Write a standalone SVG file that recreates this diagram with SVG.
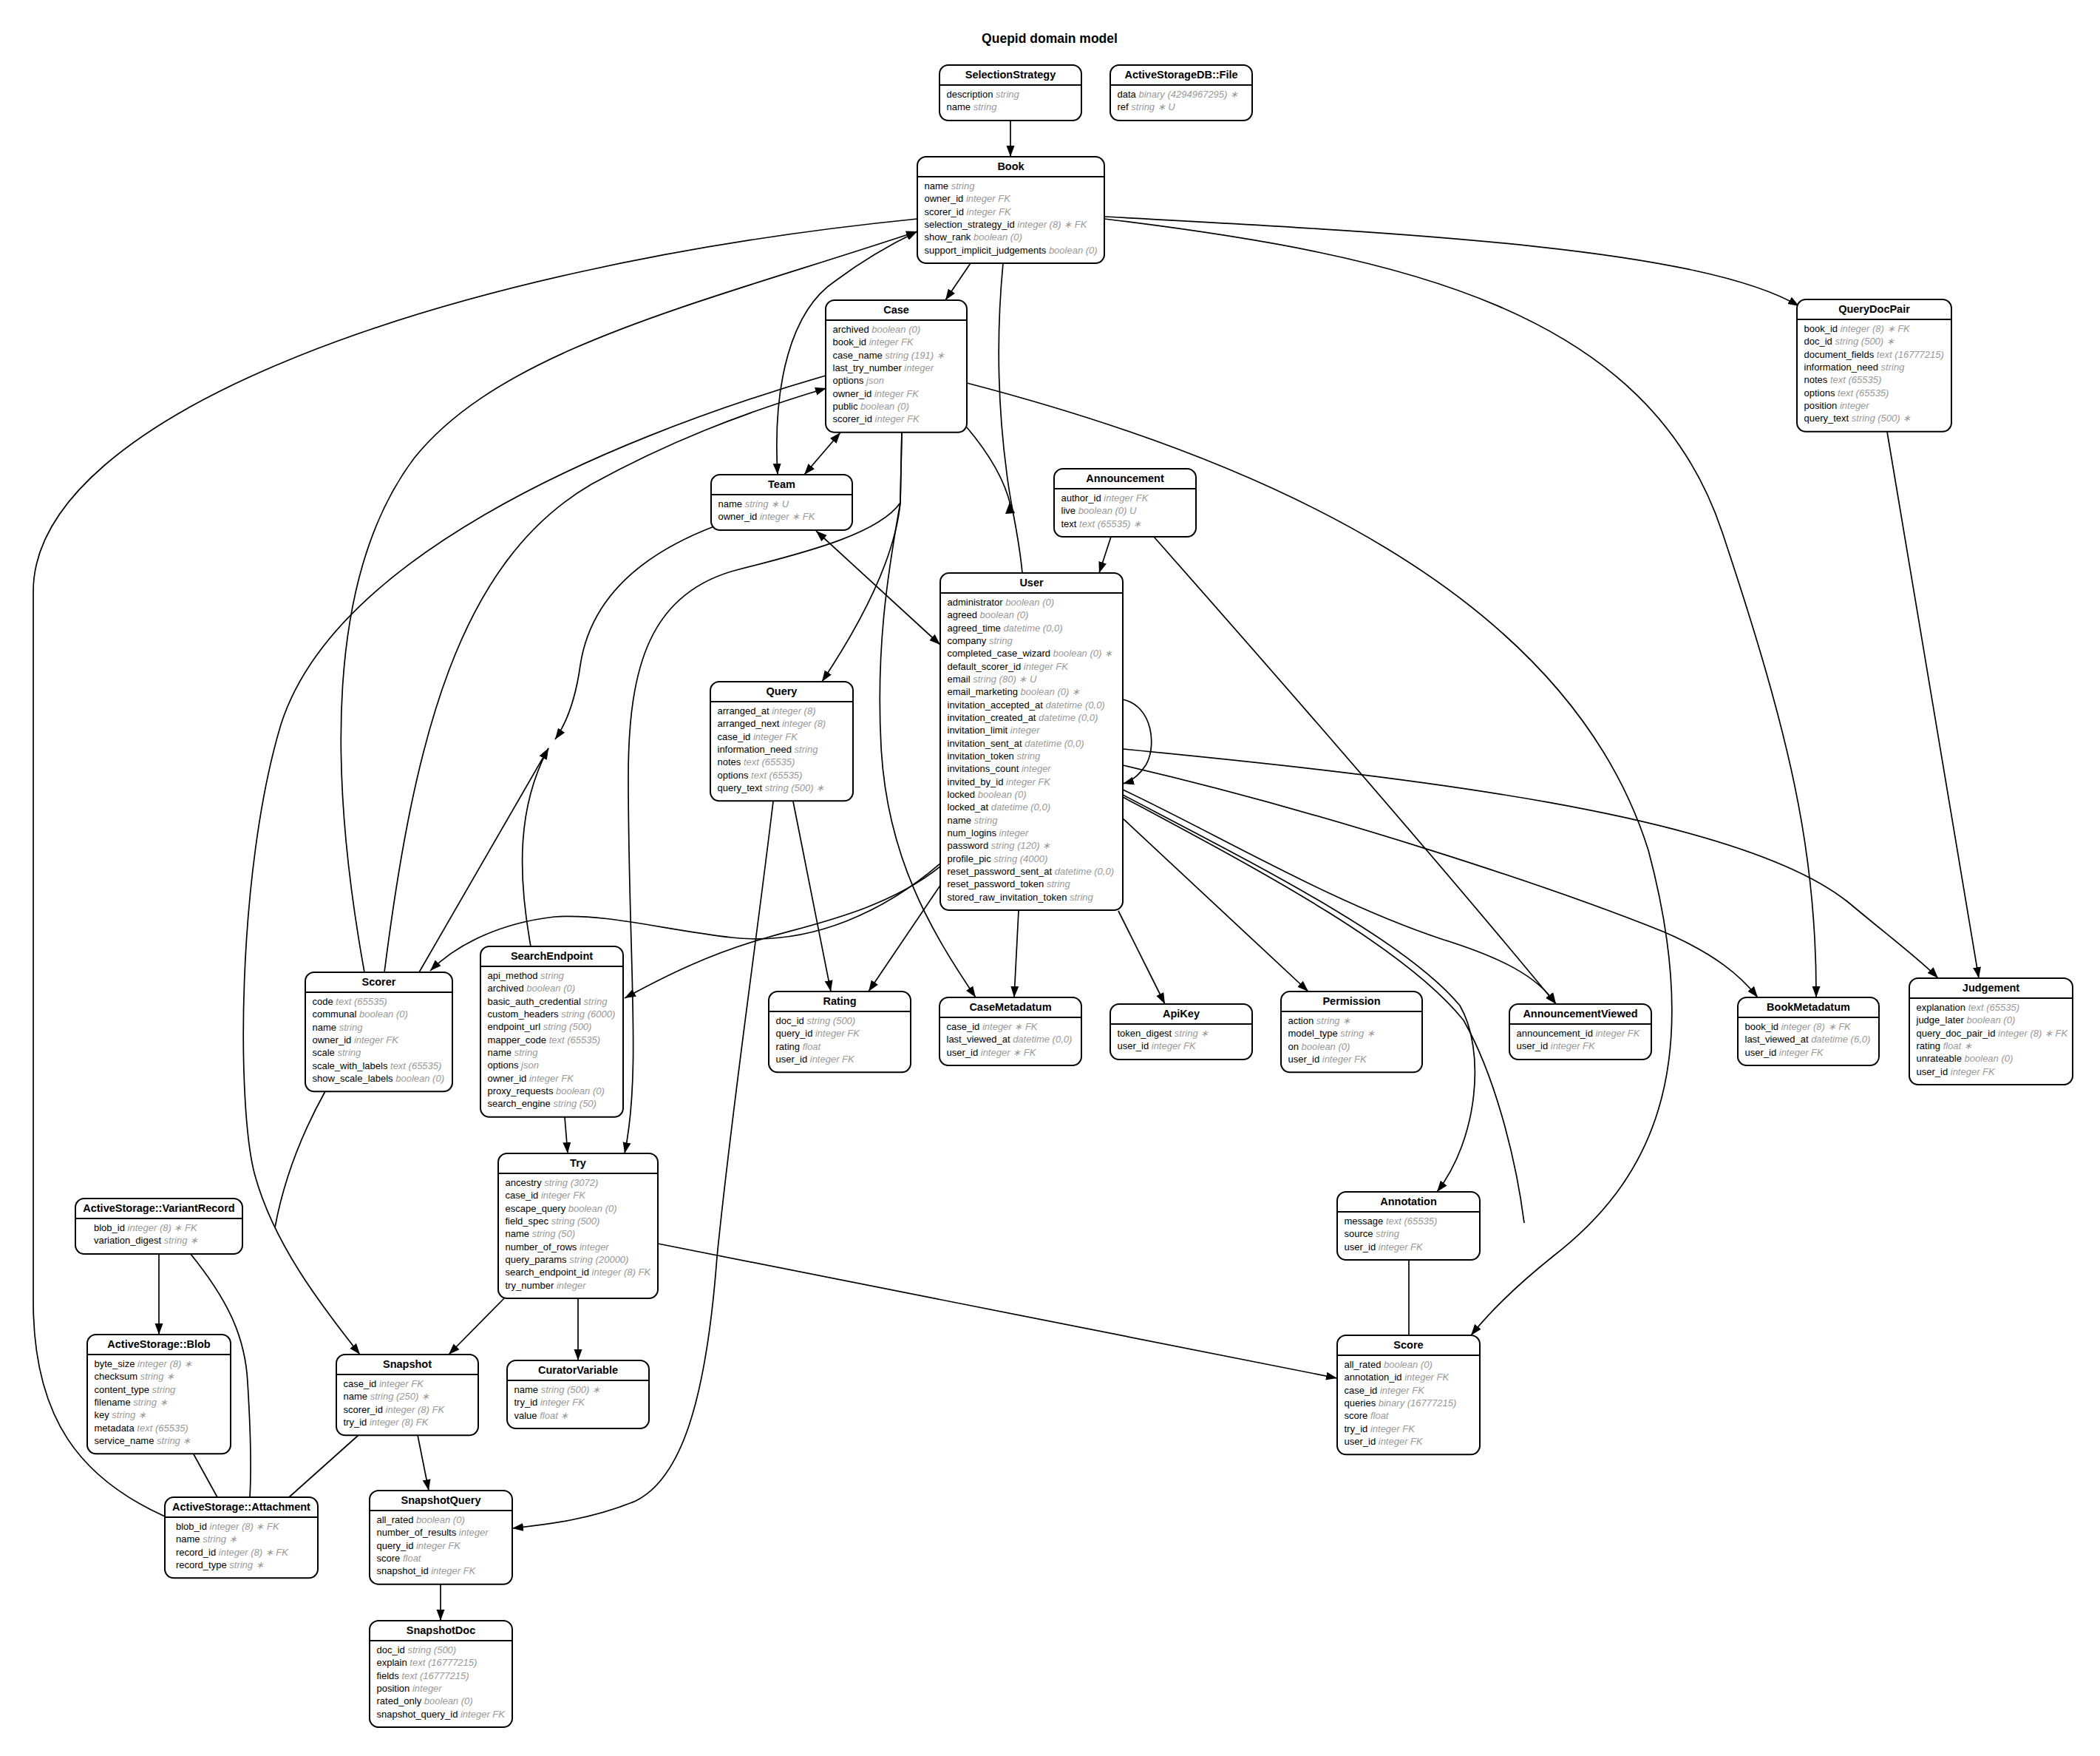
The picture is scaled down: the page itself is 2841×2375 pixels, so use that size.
<svg xmlns="http://www.w3.org/2000/svg" width="2841" height="2375" viewBox="0 0 2841 2375">
<style>
.n rect{fill:#fff;stroke:#000;stroke-width:2}
.n line{stroke:#000;stroke-width:2}
.h{font-family:"Liberation Sans",Arial,sans-serif;font-weight:bold;font-size:14.5px;text-anchor:middle;fill:#000}
.r{font-family:"Liberation Sans",Arial,sans-serif;font-size:13px;fill:#000}
.t{fill:#999;font-style:italic}
.e path{fill:none;stroke:#000;stroke-width:1.7}
.e .ah{fill:#000;stroke:none}
.ttl{font-family:"Liberation Sans",Arial,sans-serif;font-weight:bold;font-size:17.5px;text-anchor:middle}
</style>
<defs>
<marker id="a" markerUnits="userSpaceOnUse" markerWidth="16" markerHeight="12" viewBox="0 0 16 12" refX="15" refY="6" orient="auto-start-reverse"><path d="M0,0.5 L15,6 L0,11.5z" fill="#000"/></marker>
</defs>
<rect x="0" y="0" width="2841" height="2375" fill="#fff"/>
<text class="ttl" x="1420" y="58">Quepid domain model</text>

<g id="edges" class="e">
<path d="M1367,163 L1367,212" marker-end="url(#a)"/>
<path d="M1313,356 L1279,406" marker-end="url(#a)"/>
<path d="M1494,293 C1900,315 2300,335 2434,414" marker-end="url(#a)"/>
<path d="M1494,296 C1900,345 2230,420 2330,720 C2420,990 2458,1150 2457,1349" marker-end="url(#a)"/>
<path d="M1052,642 C1045,520 1070,420 1130,380 C1170,350 1210,328 1241,313" marker-start="url(#a)" marker-end="url(#a)"/>
<path d="M493,1315 C445,1050 440,780 560,620 C680,470 950,410 1241,313" marker-end="url(#a)"/>
<path d="M223,2051 C110,2000 45,1920 45,1760 L45,800 C45,560 600,360 1241,296"/>
<path d="M1088,642 L1137,585" marker-start="url(#a)" marker-end="url(#a)"/>
<path d="M520,1315 C560,1000 620,760 800,655 C900,600 1000,560 1118,525" marker-end="url(#a)"/>
<path d="M1117,508 C800,600 450,760 380,980 C320,1180 320,1500 345,1590 C370,1680 430,1760 487,1832" marker-end="url(#a)"/>
<path d="M1220,584 L1218,680 C1210,760 1160,850 1112,922" marker-end="url(#a)"/>
<path d="M1220,584 L1218,680 C1200,780 1185,880 1192,1010 C1200,1160 1260,1260 1320,1349" marker-end="url(#a)"/>
<path d="M1218,680 C1190,720 1100,745 1000,770 C880,800 850,900 850,1050 C850,1300 868,1450 845,1560" marker-end="url(#a)"/>
<path d="M1308,518 C1700,620 2120,800 2230,1150 C2310,1450 2230,1600 2100,1700 C2050,1740 2015,1775 1990,1806" marker-end="url(#a)"/>
<path d="M1383,775 C1378,720 1368,690 1362,640 C1350,550 1348,450 1357,356"/>
<path d="M1308,578 C1335,610 1358,645 1367,683"/>
<path class="ah" d="M1366,679 L1360,695 L1373,694 z"/>
<path d="M1104,718 L1272,872" marker-start="url(#a)" marker-end="url(#a)"/>
<path d="M966,712 C880,745 800,800 785,900 C778,950 765,980 751,1000" marker-end="url(#a)"/>
<path d="M567,1315 L742,1012" marker-end="url(#a)"/>
<path d="M718,1280 C700,1180 700,1090 742,1012" marker-end="url(#a)"/>
<path d="M1272,1168 C1200,1230 1100,1280 990,1268 C900,1258 820,1235 750,1240 C680,1248 620,1275 582,1313" marker-end="url(#a)"/>
<path d="M1272,1172 C1200,1230 1100,1250 1038,1268 C960,1290 900,1320 845,1350" marker-end="url(#a)"/>
<path d="M440,1476 C410,1530 385,1590 372,1660"/>
<path d="M1073,1084 L1124,1341" marker-end="url(#a)"/>
<path d="M1046,1084 C1020,1300 990,1500 970,1700 C955,1900 920,2000 860,2030 C800,2055 740,2062 693,2067" marker-end="url(#a)"/>
<path d="M1275,1193 L1175,1341" marker-end="url(#a)"/>
<path d="M1378,1232 L1372,1349" marker-end="url(#a)"/>
<path d="M1513,1232 L1576,1358" marker-end="url(#a)"/>
<path d="M1519,1107 L1770,1341" marker-end="url(#a)"/>
<path d="M1519,946 C1560,955 1565,1010 1550,1035 C1540,1050 1530,1057 1519,1060" marker-end="url(#a)"/>
<path d="M1519,1013 C1900,1050 2350,1100 2500,1220 C2560,1270 2600,1300 2622,1323" marker-end="url(#a)"/>
<path d="M1519,1035 C1800,1100 2100,1200 2250,1260 C2320,1290 2355,1320 2378,1349" marker-end="url(#a)"/>
<path d="M1519,1068 C1650,1130 1800,1220 1950,1270 C2030,1295 2080,1320 2105,1358" marker-end="url(#a)"/>
<path d="M1519,1075 C1700,1170 1900,1270 1975,1360 C2010,1420 2000,1540 1944,1612" marker-end="url(#a)"/>
<path d="M1519,1078 C1700,1175 1900,1280 1980,1380 C2020,1450 2050,1560 2062,1654"/>
<path d="M1503,726 L1487,775" marker-end="url(#a)"/>
<path d="M1561,726 C1750,940 1950,1170 2105,1358" marker-end="url(#a)"/>
<path d="M2553,584 L2677,1323" marker-end="url(#a)"/>
<path d="M764,1511 L768,1560" marker-end="url(#a)"/>
<path d="M682,1756 L607,1832" marker-end="url(#a)"/>
<path d="M782,1756 L782,1840" marker-end="url(#a)"/>
<path d="M890,1682 L1809,1864" marker-end="url(#a)"/>
<path d="M1906,1704 L1906,1806"/>
<path d="M565,1941 L580,2016" marker-end="url(#a)"/>
<path d="M485,1941 L391,2025"/>
<path d="M596,2143 L596,2192" marker-end="url(#a)"/>
<path d="M215,1695 L215,1805" marker-end="url(#a)"/>
<path d="M257,1695 C310,1760 332,1810 335,1870 C340,1950 340,1990 338,2025"/>
<path d="M262,1967 L294,2025"/>
</g>

<g id="n-selectionstrategy" class="n">
<rect x="1271" y="88" width="192" height="75" rx="12"/><line x1="1271" y1="115" x2="1463" y2="115"/>
<text class="h" x="1367" y="105.5">SelectionStrategy</text>
<text class="r" x="1280.5" y="132"><tspan x="1280.5" dy="0">description <tspan class="t">string</tspan></tspan><tspan x="1280.5" dy="17.33">name <tspan class="t">string</tspan></tspan></text>
</g>
<g id="n-activestoragedbfile" class="n">
<rect x="1502" y="88" width="192" height="75" rx="12"/><line x1="1502" y1="115" x2="1694" y2="115"/>
<text class="h" x="1598" y="105.5">ActiveStorageDB::File</text>
<text class="r" x="1511.5" y="132"><tspan x="1511.5" dy="0">data <tspan class="t">binary (4294967295) ∗</tspan></tspan><tspan x="1511.5" dy="17.33">ref <tspan class="t">string ∗ U</tspan></tspan></text>
</g>
<g id="n-book" class="n">
<rect x="1241" y="212" width="253" height="144" rx="12"/><line x1="1241" y1="239" x2="1494" y2="239"/>
<text class="h" x="1367.5" y="229.5">Book</text>
<text class="r" x="1250.5" y="256"><tspan x="1250.5" dy="0">name <tspan class="t">string</tspan></tspan><tspan x="1250.5" dy="17.33">owner_id <tspan class="t">integer FK</tspan></tspan><tspan x="1250.5" dy="17.33">scorer_id <tspan class="t">integer FK</tspan></tspan><tspan x="1250.5" dy="17.33">selection_strategy_id <tspan class="t">integer (8) ∗ FK</tspan></tspan><tspan x="1250.5" dy="17.33">show_rank <tspan class="t">boolean (0)</tspan></tspan><tspan x="1250.5" dy="17.33">support_implicit_judgements <tspan class="t">boolean (0)</tspan></tspan></text>
</g>
<g id="n-case" class="n">
<rect x="1117" y="406" width="191" height="178.7" rx="12"/><line x1="1117" y1="433" x2="1308" y2="433"/>
<text class="h" x="1212.5" y="423.5">Case</text>
<text class="r" x="1126.5" y="450"><tspan x="1126.5" dy="0">archived <tspan class="t">boolean (0)</tspan></tspan><tspan x="1126.5" dy="17.33">book_id <tspan class="t">integer FK</tspan></tspan><tspan x="1126.5" dy="17.33">case_name <tspan class="t">string (191) ∗</tspan></tspan><tspan x="1126.5" dy="17.33">last_try_number <tspan class="t">integer</tspan></tspan><tspan x="1126.5" dy="17.33">options <tspan class="t">json</tspan></tspan><tspan x="1126.5" dy="17.33">owner_id <tspan class="t">integer FK</tspan></tspan><tspan x="1126.5" dy="17.33">public <tspan class="t">boolean (0)</tspan></tspan><tspan x="1126.5" dy="17.33">scorer_id <tspan class="t">integer FK</tspan></tspan></text>
</g>
<g id="n-querydocpair" class="n">
<rect x="2431" y="405" width="209" height="178.7" rx="12"/><line x1="2431" y1="432" x2="2640" y2="432"/>
<text class="h" x="2535.5" y="422.5">QueryDocPair</text>
<text class="r" x="2440.5" y="449"><tspan x="2440.5" dy="0">book_id <tspan class="t">integer (8) ∗ FK</tspan></tspan><tspan x="2440.5" dy="17.33">doc_id <tspan class="t">string (500) ∗</tspan></tspan><tspan x="2440.5" dy="17.33">document_fields <tspan class="t">text (16777215)</tspan></tspan><tspan x="2440.5" dy="17.33">information_need <tspan class="t">string</tspan></tspan><tspan x="2440.5" dy="17.33">notes <tspan class="t">text (65535)</tspan></tspan><tspan x="2440.5" dy="17.33">options <tspan class="t">text (65535)</tspan></tspan><tspan x="2440.5" dy="17.33">position <tspan class="t">integer</tspan></tspan><tspan x="2440.5" dy="17.33">query_text <tspan class="t">string (500) ∗</tspan></tspan></text>
</g>
<g id="n-team" class="n">
<rect x="962" y="642" width="191" height="75" rx="12"/><line x1="962" y1="669" x2="1153" y2="669"/>
<text class="h" x="1057.5" y="659.5">Team</text>
<text class="r" x="971.5" y="686"><tspan x="971.5" dy="0">name <tspan class="t">string ∗ U</tspan></tspan><tspan x="971.5" dy="17.33">owner_id <tspan class="t">integer ∗ FK</tspan></tspan></text>
</g>
<g id="n-announcement" class="n">
<rect x="1426" y="634" width="192" height="92" rx="12"/><line x1="1426" y1="661" x2="1618" y2="661"/>
<text class="h" x="1522" y="651.5">Announcement</text>
<text class="r" x="1435.5" y="678"><tspan x="1435.5" dy="0">author_id <tspan class="t">integer FK</tspan></tspan><tspan x="1435.5" dy="17.33">live <tspan class="t">boolean (0) U</tspan></tspan><tspan x="1435.5" dy="17.33">text <tspan class="t">text (65535) ∗</tspan></tspan></text>
</g>
<g id="n-user" class="n">
<rect x="1272" y="775" width="247" height="456" rx="12"/><line x1="1272" y1="802" x2="1519" y2="802"/>
<text class="h" x="1395.5" y="792.5">User</text>
<text class="r" x="1281.5" y="819"><tspan x="1281.5" dy="0">administrator <tspan class="t">boolean (0)</tspan></tspan><tspan x="1281.5" dy="17.33">agreed <tspan class="t">boolean (0)</tspan></tspan><tspan x="1281.5" dy="17.33">agreed_time <tspan class="t">datetime (0,0)</tspan></tspan><tspan x="1281.5" dy="17.33">company <tspan class="t">string</tspan></tspan><tspan x="1281.5" dy="17.33">completed_case_wizard <tspan class="t">boolean (0) ∗</tspan></tspan><tspan x="1281.5" dy="17.33">default_scorer_id <tspan class="t">integer FK</tspan></tspan><tspan x="1281.5" dy="17.33">email <tspan class="t">string (80) ∗ U</tspan></tspan><tspan x="1281.5" dy="17.33">email_marketing <tspan class="t">boolean (0) ∗</tspan></tspan><tspan x="1281.5" dy="17.33">invitation_accepted_at <tspan class="t">datetime (0,0)</tspan></tspan><tspan x="1281.5" dy="17.33">invitation_created_at <tspan class="t">datetime (0,0)</tspan></tspan><tspan x="1281.5" dy="17.33">invitation_limit <tspan class="t">integer</tspan></tspan><tspan x="1281.5" dy="17.33">invitation_sent_at <tspan class="t">datetime (0,0)</tspan></tspan><tspan x="1281.5" dy="17.33">invitation_token <tspan class="t">string</tspan></tspan><tspan x="1281.5" dy="17.33">invitations_count <tspan class="t">integer</tspan></tspan><tspan x="1281.5" dy="17.33">invited_by_id <tspan class="t">integer FK</tspan></tspan><tspan x="1281.5" dy="17.33">locked <tspan class="t">boolean (0)</tspan></tspan><tspan x="1281.5" dy="17.33">locked_at <tspan class="t">datetime (0,0)</tspan></tspan><tspan x="1281.5" dy="17.33">name <tspan class="t">string</tspan></tspan><tspan x="1281.5" dy="17.33">num_logins <tspan class="t">integer</tspan></tspan><tspan x="1281.5" dy="17.33">password <tspan class="t">string (120) ∗</tspan></tspan><tspan x="1281.5" dy="17.33">profile_pic <tspan class="t">string (4000)</tspan></tspan><tspan x="1281.5" dy="17.33">reset_password_sent_at <tspan class="t">datetime (0,0)</tspan></tspan><tspan x="1281.5" dy="17.33">reset_password_token <tspan class="t">string</tspan></tspan><tspan x="1281.5" dy="17.33">stored_raw_invitation_token <tspan class="t">string</tspan></tspan></text>
</g>
<g id="n-query" class="n">
<rect x="961" y="922" width="193" height="161.3" rx="12"/><line x1="961" y1="949" x2="1154" y2="949"/>
<text class="h" x="1057.5" y="939.5">Query</text>
<text class="r" x="970.5" y="966"><tspan x="970.5" dy="0">arranged_at <tspan class="t">integer (8)</tspan></tspan><tspan x="970.5" dy="17.33">arranged_next <tspan class="t">integer (8)</tspan></tspan><tspan x="970.5" dy="17.33">case_id <tspan class="t">integer FK</tspan></tspan><tspan x="970.5" dy="17.33">information_need <tspan class="t">string</tspan></tspan><tspan x="970.5" dy="17.33">notes <tspan class="t">text (65535)</tspan></tspan><tspan x="970.5" dy="17.33">options <tspan class="t">text (65535)</tspan></tspan><tspan x="970.5" dy="17.33">query_text <tspan class="t">string (500) ∗</tspan></tspan></text>
</g>
<g id="n-scorer" class="n">
<rect x="413" y="1315" width="199" height="161.3" rx="12"/><line x1="413" y1="1342" x2="612" y2="1342"/>
<text class="h" x="512.5" y="1332.5">Scorer</text>
<text class="r" x="422.5" y="1359"><tspan x="422.5" dy="0">code <tspan class="t">text (65535)</tspan></tspan><tspan x="422.5" dy="17.33">communal <tspan class="t">boolean (0)</tspan></tspan><tspan x="422.5" dy="17.33">name <tspan class="t">string</tspan></tspan><tspan x="422.5" dy="17.33">owner_id <tspan class="t">integer FK</tspan></tspan><tspan x="422.5" dy="17.33">scale <tspan class="t">string</tspan></tspan><tspan x="422.5" dy="17.33">scale_with_labels <tspan class="t">text (65535)</tspan></tspan><tspan x="422.5" dy="17.33">show_scale_labels <tspan class="t">boolean (0)</tspan></tspan></text>
</g>
<g id="n-searchendpoint" class="n">
<rect x="650" y="1280" width="193" height="230.7" rx="12"/><line x1="650" y1="1307" x2="843" y2="1307"/>
<text class="h" x="746.5" y="1297.5">SearchEndpoint</text>
<text class="r" x="659.5" y="1324"><tspan x="659.5" dy="0">api_method <tspan class="t">string</tspan></tspan><tspan x="659.5" dy="17.33">archived <tspan class="t">boolean (0)</tspan></tspan><tspan x="659.5" dy="17.33">basic_auth_credential <tspan class="t">string</tspan></tspan><tspan x="659.5" dy="17.33">custom_headers <tspan class="t">string (6000)</tspan></tspan><tspan x="659.5" dy="17.33">endpoint_url <tspan class="t">string (500)</tspan></tspan><tspan x="659.5" dy="17.33">mapper_code <tspan class="t">text (65535)</tspan></tspan><tspan x="659.5" dy="17.33">name <tspan class="t">string</tspan></tspan><tspan x="659.5" dy="17.33">options <tspan class="t">json</tspan></tspan><tspan x="659.5" dy="17.33">owner_id <tspan class="t">integer FK</tspan></tspan><tspan x="659.5" dy="17.33">proxy_requests <tspan class="t">boolean (0)</tspan></tspan><tspan x="659.5" dy="17.33">search_engine <tspan class="t">string (50)</tspan></tspan></text>
</g>
<g id="n-rating" class="n">
<rect x="1040" y="1341" width="192" height="109.3" rx="12"/><line x1="1040" y1="1368" x2="1232" y2="1368"/>
<text class="h" x="1136" y="1358.5">Rating</text>
<text class="r" x="1049.5" y="1385"><tspan x="1049.5" dy="0">doc_id <tspan class="t">string (500)</tspan></tspan><tspan x="1049.5" dy="17.33">query_id <tspan class="t">integer FK</tspan></tspan><tspan x="1049.5" dy="17.33">rating <tspan class="t">float</tspan></tspan><tspan x="1049.5" dy="17.33">user_id <tspan class="t">integer FK</tspan></tspan></text>
</g>
<g id="n-casemetadatum" class="n">
<rect x="1271" y="1349" width="192" height="92" rx="12"/><line x1="1271" y1="1376" x2="1463" y2="1376"/>
<text class="h" x="1367" y="1366.5">CaseMetadatum</text>
<text class="r" x="1280.5" y="1393"><tspan x="1280.5" dy="0">case_id <tspan class="t">integer ∗ FK</tspan></tspan><tspan x="1280.5" dy="17.33">last_viewed_at <tspan class="t">datetime (0,0)</tspan></tspan><tspan x="1280.5" dy="17.33">user_id <tspan class="t">integer ∗ FK</tspan></tspan></text>
</g>
<g id="n-apikey" class="n">
<rect x="1502" y="1358" width="192" height="75" rx="12"/><line x1="1502" y1="1385" x2="1694" y2="1385"/>
<text class="h" x="1598" y="1375.5">ApiKey</text>
<text class="r" x="1511.5" y="1402"><tspan x="1511.5" dy="0">token_digest <tspan class="t">string ∗</tspan></tspan><tspan x="1511.5" dy="17.33">user_id <tspan class="t">integer FK</tspan></tspan></text>
</g>
<g id="n-permission" class="n">
<rect x="1733" y="1341" width="191" height="109.3" rx="12"/><line x1="1733" y1="1368" x2="1924" y2="1368"/>
<text class="h" x="1828.5" y="1358.5">Permission</text>
<text class="r" x="1742.5" y="1385"><tspan x="1742.5" dy="0">action <tspan class="t">string ∗</tspan></tspan><tspan x="1742.5" dy="17.33">model_type <tspan class="t">string ∗</tspan></tspan><tspan x="1742.5" dy="17.33">on <tspan class="t">boolean (0)</tspan></tspan><tspan x="1742.5" dy="17.33">user_id <tspan class="t">integer FK</tspan></tspan></text>
</g>
<g id="n-announcementviewed" class="n">
<rect x="2042" y="1358" width="192" height="75" rx="12"/><line x1="2042" y1="1385" x2="2234" y2="1385"/>
<text class="h" x="2138" y="1375.5">AnnouncementViewed</text>
<text class="r" x="2051.5" y="1402"><tspan x="2051.5" dy="0">announcement_id <tspan class="t">integer FK</tspan></tspan><tspan x="2051.5" dy="17.33">user_id <tspan class="t">integer FK</tspan></tspan></text>
</g>
<g id="n-bookmetadatum" class="n">
<rect x="2351" y="1349" width="191" height="92" rx="12"/><line x1="2351" y1="1376" x2="2542" y2="1376"/>
<text class="h" x="2446.5" y="1366.5">BookMetadatum</text>
<text class="r" x="2360.5" y="1393"><tspan x="2360.5" dy="0">book_id <tspan class="t">integer (8) ∗ FK</tspan></tspan><tspan x="2360.5" dy="17.33">last_viewed_at <tspan class="t">datetime (6,0)</tspan></tspan><tspan x="2360.5" dy="17.33">user_id <tspan class="t">integer FK</tspan></tspan></text>
</g>
<g id="n-judgement" class="n">
<rect x="2583" y="1323" width="221" height="144" rx="12"/><line x1="2583" y1="1350" x2="2804" y2="1350"/>
<text class="h" x="2693.5" y="1340.5">Judgement</text>
<text class="r" x="2592.5" y="1367"><tspan x="2592.5" dy="0">explanation <tspan class="t">text (65535)</tspan></tspan><tspan x="2592.5" dy="17.33">judge_later <tspan class="t">boolean (0)</tspan></tspan><tspan x="2592.5" dy="17.33">query_doc_pair_id <tspan class="t">integer (8) ∗ FK</tspan></tspan><tspan x="2592.5" dy="17.33">rating <tspan class="t">float ∗</tspan></tspan><tspan x="2592.5" dy="17.33">unrateable <tspan class="t">boolean (0)</tspan></tspan><tspan x="2592.5" dy="17.33">user_id <tspan class="t">integer FK</tspan></tspan></text>
</g>
<g id="n-try" class="n">
<rect x="674" y="1560" width="216" height="196" rx="12"/><line x1="674" y1="1587" x2="890" y2="1587"/>
<text class="h" x="782" y="1577.5">Try</text>
<text class="r" x="683.5" y="1604"><tspan x="683.5" dy="0">ancestry <tspan class="t">string (3072)</tspan></tspan><tspan x="683.5" dy="17.33">case_id <tspan class="t">integer FK</tspan></tspan><tspan x="683.5" dy="17.33">escape_query <tspan class="t">boolean (0)</tspan></tspan><tspan x="683.5" dy="17.33">field_spec <tspan class="t">string (500)</tspan></tspan><tspan x="683.5" dy="17.33">name <tspan class="t">string (50)</tspan></tspan><tspan x="683.5" dy="17.33">number_of_rows <tspan class="t">integer</tspan></tspan><tspan x="683.5" dy="17.33">query_params <tspan class="t">string (20000)</tspan></tspan><tspan x="683.5" dy="17.33">search_endpoint_id <tspan class="t">integer (8) FK</tspan></tspan><tspan x="683.5" dy="17.33">try_number <tspan class="t">integer</tspan></tspan></text>
</g>
<g id="n-annotation" class="n">
<rect x="1809" y="1612" width="193" height="92" rx="12"/><line x1="1809" y1="1639" x2="2002" y2="1639"/>
<text class="h" x="1905.5" y="1629.5">Annotation</text>
<text class="r" x="1818.5" y="1656"><tspan x="1818.5" dy="0">message <tspan class="t">text (65535)</tspan></tspan><tspan x="1818.5" dy="17.33">source <tspan class="t">string</tspan></tspan><tspan x="1818.5" dy="17.33">user_id <tspan class="t">integer FK</tspan></tspan></text>
</g>
<g id="n-score" class="n">
<rect x="1809" y="1806" width="193" height="161.3" rx="12"/><line x1="1809" y1="1833" x2="2002" y2="1833"/>
<text class="h" x="1905.5" y="1823.5">Score</text>
<text class="r" x="1818.5" y="1850"><tspan x="1818.5" dy="0">all_rated <tspan class="t">boolean (0)</tspan></tspan><tspan x="1818.5" dy="17.33">annotation_id <tspan class="t">integer FK</tspan></tspan><tspan x="1818.5" dy="17.33">case_id <tspan class="t">integer FK</tspan></tspan><tspan x="1818.5" dy="17.33">queries <tspan class="t">binary (16777215)</tspan></tspan><tspan x="1818.5" dy="17.33">score <tspan class="t">float</tspan></tspan><tspan x="1818.5" dy="17.33">try_id <tspan class="t">integer FK</tspan></tspan><tspan x="1818.5" dy="17.33">user_id <tspan class="t">integer FK</tspan></tspan></text>
</g>
<g id="n-variantrecord" class="n">
<rect x="102" y="1621" width="226" height="75" rx="12"/><line x1="102" y1="1648" x2="328" y2="1648"/>
<text class="h" x="215" y="1638.5">ActiveStorage::VariantRecord</text>
<text class="r" x="127" y="1665"><tspan x="127" dy="0">blob_id <tspan class="t">integer (8) ∗ FK</tspan></tspan><tspan x="127" dy="17.33">variation_digest <tspan class="t">string ∗</tspan></tspan></text>
</g>
<g id="n-blob" class="n">
<rect x="118" y="1805" width="194" height="161.3" rx="12"/><line x1="118" y1="1832" x2="312" y2="1832"/>
<text class="h" x="215" y="1822.5">ActiveStorage::Blob</text>
<text class="r" x="127.5" y="1849"><tspan x="127.5" dy="0">byte_size <tspan class="t">integer (8) ∗</tspan></tspan><tspan x="127.5" dy="17.33">checksum <tspan class="t">string ∗</tspan></tspan><tspan x="127.5" dy="17.33">content_type <tspan class="t">string</tspan></tspan><tspan x="127.5" dy="17.33">filename <tspan class="t">string ∗</tspan></tspan><tspan x="127.5" dy="17.33">key <tspan class="t">string ∗</tspan></tspan><tspan x="127.5" dy="17.33">metadata <tspan class="t">text (65535)</tspan></tspan><tspan x="127.5" dy="17.33">service_name <tspan class="t">string ∗</tspan></tspan></text>
</g>
<g id="n-snapshot" class="n">
<rect x="455" y="1832" width="192" height="109.3" rx="12"/><line x1="455" y1="1859" x2="647" y2="1859"/>
<text class="h" x="551" y="1849.5">Snapshot</text>
<text class="r" x="464.5" y="1876"><tspan x="464.5" dy="0">case_id <tspan class="t">integer FK</tspan></tspan><tspan x="464.5" dy="17.33">name <tspan class="t">string (250) ∗</tspan></tspan><tspan x="464.5" dy="17.33">scorer_id <tspan class="t">integer (8) FK</tspan></tspan><tspan x="464.5" dy="17.33">try_id <tspan class="t">integer (8) FK</tspan></tspan></text>
</g>
<g id="n-curatorvariable" class="n">
<rect x="686" y="1840" width="192" height="92" rx="12"/><line x1="686" y1="1867" x2="878" y2="1867"/>
<text class="h" x="782" y="1857.5">CuratorVariable</text>
<text class="r" x="695.5" y="1884"><tspan x="695.5" dy="0">name <tspan class="t">string (500) ∗</tspan></tspan><tspan x="695.5" dy="17.33">try_id <tspan class="t">integer FK</tspan></tspan><tspan x="695.5" dy="17.33">value <tspan class="t">float ∗</tspan></tspan></text>
</g>
<g id="n-attachment" class="n">
<rect x="223" y="2025" width="207" height="109.3" rx="12"/><line x1="223" y1="2052" x2="430" y2="2052"/>
<text class="h" x="326.5" y="2042.5">ActiveStorage::Attachment</text>
<text class="r" x="238" y="2069"><tspan x="238" dy="0">blob_id <tspan class="t">integer (8) ∗ FK</tspan></tspan><tspan x="238" dy="17.33">name <tspan class="t">string ∗</tspan></tspan><tspan x="238" dy="17.33">record_id <tspan class="t">integer (8) ∗ FK</tspan></tspan><tspan x="238" dy="17.33">record_type <tspan class="t">string ∗</tspan></tspan></text>
</g>
<g id="n-snapshotquery" class="n">
<rect x="500" y="2016" width="193" height="126.7" rx="12"/><line x1="500" y1="2043" x2="693" y2="2043"/>
<text class="h" x="596.5" y="2033.5">SnapshotQuery</text>
<text class="r" x="509.5" y="2060"><tspan x="509.5" dy="0">all_rated <tspan class="t">boolean (0)</tspan></tspan><tspan x="509.5" dy="17.33">number_of_results <tspan class="t">integer</tspan></tspan><tspan x="509.5" dy="17.33">query_id <tspan class="t">integer FK</tspan></tspan><tspan x="509.5" dy="17.33">score <tspan class="t">float</tspan></tspan><tspan x="509.5" dy="17.33">snapshot_id <tspan class="t">integer FK</tspan></tspan></text>
</g>
<g id="n-snapshotdoc" class="n">
<rect x="500" y="2192" width="193" height="144" rx="12"/><line x1="500" y1="2219" x2="693" y2="2219"/>
<text class="h" x="596.5" y="2209.5">SnapshotDoc</text>
<text class="r" x="509.5" y="2236"><tspan x="509.5" dy="0">doc_id <tspan class="t">string (500)</tspan></tspan><tspan x="509.5" dy="17.33">explain <tspan class="t">text (16777215)</tspan></tspan><tspan x="509.5" dy="17.33">fields <tspan class="t">text (16777215)</tspan></tspan><tspan x="509.5" dy="17.33">position <tspan class="t">integer</tspan></tspan><tspan x="509.5" dy="17.33">rated_only <tspan class="t">boolean (0)</tspan></tspan><tspan x="509.5" dy="17.33">snapshot_query_id <tspan class="t">integer FK</tspan></tspan></text>
</g>
</svg>
